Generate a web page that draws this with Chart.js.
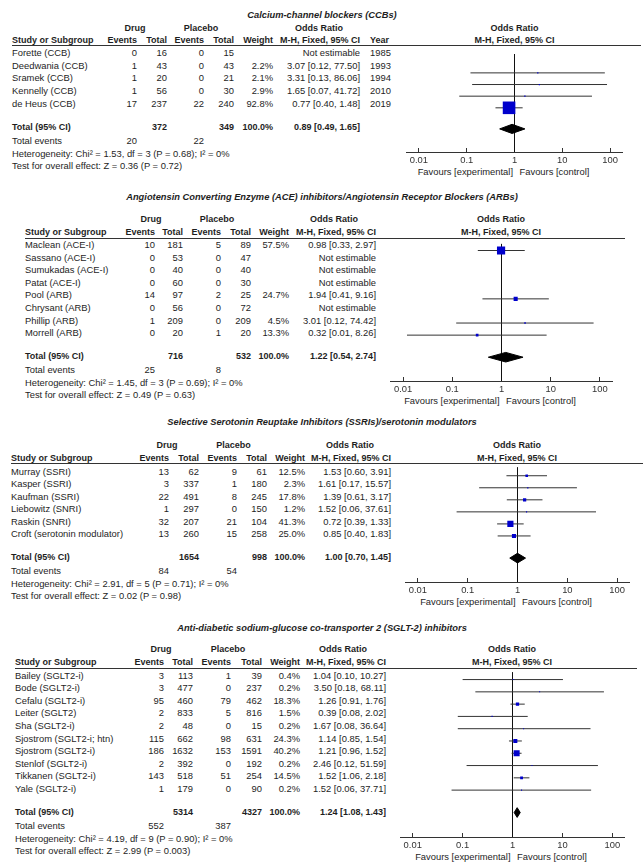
<!DOCTYPE html>
<html><head><meta charset="utf-8">
<script src="https://cdn.jsdelivr.net/npm/chart.js@4.4.1/dist/chart.umd.min.js"></script>
<style>
body{margin:0;background:#fff;}
#root{position:relative;width:644px;height:863px;overflow:hidden;font-family:"Liberation Sans",Arial,sans-serif;font-size:9.4px;color:#1e1e1e;}
.t{position:absolute;white-space:nowrap;height:12px;line-height:12px;}
.b{font-weight:bold;font-size:9px;}
.ti{font-weight:bold;font-style:italic;font-size:9.3px;}
.hl{position:absolute;height:0;border-top:1px solid #333;}
canvas{position:absolute;}
</style></head><body><div id="root"></div>
<script>
// ---------- DATA ----------
const panelTitles = [
  'Calcium-channel blockers (CCBs)',
  'Angiotensin Converting Enzyme (ACE) inhibitors/Angiotensin Receptor Blockers (ARBs)',
  'Selective Serotonin Reuptake Inhibitors (SSRIs)/serotonin modulators',
  'Anti-diabetic sodium-glucose co-transporter 2 (SGLT-2) inhibitors'
];
const tickValues = [0.01, 0.1, 1, 10, 100];
const tickLabels = ['0.01', '0.1', '1', '10', '100'];

// Panel 1: CCBs
const ccbStudies = ['Forette (CCB)', 'Deedwania (CCB)', 'Sramek (CCB)', 'Kennelly (CCB)', 'de Heus (CCB)'];
const ccbDrugEvents = [0, 1, 1, 1, 17];
const ccbDrugTotal = [16, 43, 20, 56, 237];
const ccbPlaceboEvents = [0, 0, 0, 0, 22];
const ccbPlaceboTotal = [15, 43, 21, 30, 240];
const ccbWeight = [null, 2.2, 2.1, 2.9, 92.8];
const ccbOR = [null, 3.07, 3.31, 1.65, 0.77];
const ccbLower = [null, 0.12, 0.13, 0.07, 0.40];
const ccbUpper = [null, 77.50, 86.06, 41.72, 1.48];
const ccbYear = [1985, 1993, 1994, 2010, 2019];

// Panel 2: ACE-I / ARB
const aceStudies = ['Maclean (ACE-I)', 'Sassano (ACE-I)', 'Sumukadas (ACE-I)', 'Patat (ACE-I)', 'Pool (ARB)', 'Chrysant (ARB)', 'Phillip (ARB)', 'Morrell (ARB)'];
const aceDrugEvents = [10, 0, 0, 0, 14, 0, 1, 0];
const aceDrugTotal = [181, 53, 40, 60, 97, 56, 209, 20];
const acePlaceboEvents = [5, 0, 0, 0, 2, 0, 0, 1];
const acePlaceboTotal = [89, 47, 40, 30, 25, 72, 209, 20];
const aceWeight = [57.5, null, null, null, 24.7, null, 4.5, 13.3];
const aceOR = [0.98, null, null, null, 1.94, null, 3.01, 0.32];
const aceLower = [0.33, null, null, null, 0.41, null, 0.12, 0.012];
const aceUpper = [2.97, null, null, null, 9.16, null, 74.42, 8.26];

// Panel 3: SSRIs
const ssriStudies = ['Murray (SSRI)', 'Kasper (SSRI)', 'Kaufman (SSRI)', 'Liebowitz (SNRI)', 'Raskin (SNRI)', 'Croft (serotonin modulator)'];
const ssriDrugEvents = [13, 3, 22, 1, 32, 13];
const ssriDrugTotal = [62, 337, 491, 297, 207, 260];
const ssriPlaceboEvents = [9, 1, 8, 0, 21, 15];
const ssriPlaceboTotal = [61, 180, 245, 150, 104, 258];
const ssriWeight = [12.5, 2.3, 17.8, 1.2, 41.3, 25.0];
const ssriOR = [1.53, 1.61, 1.39, 1.52, 0.72, 0.85];
const ssriLower = [0.60, 0.17, 0.61, 0.06, 0.39, 0.40];
const ssriUpper = [3.91, 15.57, 3.17, 37.61, 1.33, 1.83];

// Panel 4: SGLT2
const sgltStudies = ['Bailey (SGLT2-i)', 'Bode (SGLT2-i)', 'Cefalu (SGLT2-i)', 'Leiter (SGLT2)', 'Sha (SGLT2-i)', 'Sjostrom (SGLT2-i; htn)', 'Sjostrom (SGLT2-i)', 'Stenlof (SGLT2-i)', 'Tikkanen (SGLT2-i)', 'Yale (SGLT2-i)'];
const sgltDrugEvents = [3, 3, 95, 2, 2, 115, 186, 2, 143, 1];
const sgltDrugTotal = [113, 477, 460, 833, 48, 662, 1632, 392, 518, 179];
const sgltPlaceboEvents = [1, 0, 79, 5, 0, 98, 153, 0, 51, 0];
const sgltPlaceboTotal = [39, 237, 462, 816, 15, 631, 1591, 192, 254, 90];
const sgltWeight = [0.4, 0.2, 18.3, 1.5, 0.2, 24.3, 40.2, 0.2, 14.5, 0.2];
const sgltOR = [1.04, 3.50, 1.26, 0.39, 1.67, 1.14, 1.21, 2.46, 1.52, 1.52];
const sgltLower = [0.10, 0.18, 0.91, 0.08, 0.08, 0.85, 0.96, 0.12, 1.06, 0.06];
const sgltUpper = [10.27, 68.11, 1.76, 2.02, 36.64, 1.54, 1.52, 51.59, 2.18, 37.71];

// Pooled results per panel
const pooledDrugTotal = [372, 716, 1654, 5314];
const pooledPlaceboTotal = [349, 532, 998, 4327];
const pooledWeight = [100.0, 100.0, 100.0, 100.0];
const pooledOR = [0.89, 1.22, 1.00, 1.24];
const pooledLower = [0.49, 0.54, 0.70, 1.08];
const pooledUpper = [1.65, 2.74, 1.45, 1.43];
const drugEventTotals = [20, 25, 84, 552];
const placeboEventTotals = [22, 8, 54, 387];
const hetChi2 = ['1.53', '1.45', '2.91', '4.19'];
const hetDf = [3, 3, 5, 9];
const hetP = ['0.68', '0.69', '0.71', '0.90'];
const hetI2 = [0, 0, 0, 0];
const zValue = ['0.36', '0.49', '0.02', '2.99'];
const zP = ['0.72', '0.63', '0.98', '0.003'];

const panels = [
  {studies: ccbStudies, dE: ccbDrugEvents, dT: ccbDrugTotal, pE: ccbPlaceboEvents, pT: ccbPlaceboTotal, w: ccbWeight, or: ccbOR, lo: ccbLower, hi: ccbUpper, year: ccbYear},
  {studies: aceStudies, dE: aceDrugEvents, dT: aceDrugTotal, pE: acePlaceboEvents, pT: acePlaceboTotal, w: aceWeight, or: aceOR, lo: aceLower, hi: aceUpper},
  {studies: ssriStudies, dE: ssriDrugEvents, dT: ssriDrugTotal, pE: ssriPlaceboEvents, pT: ssriPlaceboTotal, w: ssriWeight, or: ssriOR, lo: ssriLower, hi: ssriUpper},
  {studies: sgltStudies, dE: sgltDrugEvents, dT: sgltDrugTotal, pE: sgltPlaceboEvents, pT: sgltPlaceboTotal, w: sgltWeight, or: sgltOR, lo: sgltLower, hi: sgltUpper}
];

// ---------- LAYOUT ----------
const layouts = [
  {title:15, h1:28, h2:40, line:45, row0:53, rowH:12.7, study:12, dE:137, dT:167, pE:204, pT:234, wt:273, orR:360, year:370, drugC:135, placC:201, orC:319, plotC:514.5, lineL:12, lineR:641},
  {title:197, h1:218.5, h2:232, line:237.5, row0:245, rowH:12.6, study:25, dE:155, dT:183, pE:221, pT:251, wt:289, orR:376, drugC:151, placC:217, orC:334, plotC:501, lineL:25, lineR:625},
  {title:422, h1:445, h2:457.7, line:463.3, row0:471.7, rowH:12.5, study:11, dE:169, dT:199, pE:237, pT:267, wt:305, orR:391, drugC:167, placC:233.5, orC:350, plotC:517, lineL:11, lineR:643},
  {title:628, h1:649, h2:662, line:667.7, row0:675.5, rowH:12.6, study:15, dE:164, dT:193, pE:231, pT:262, wt:300, orR:386, drugC:161, placC:228, orC:343, plotC:512, lineL:15, lineR:637}
];
const AXIS_W = 233;
const FONT = "'Liberation Sans', Arial, sans-serif";

const root = document.getElementById('root');
function txt(x, y, s, align, cls) {
  const d = document.createElement('div');
  d.className = 't' + (cls ? ' ' + cls : '');
  d.textContent = s;
  d.style.top = (y - 6) + 'px';
  if (align === 'r') { d.style.right = (644 - x) + 'px'; }
  else if (align === 'c') { d.style.left = x + 'px'; d.style.transform = 'translateX(-50%)'; }
  else { d.style.left = x + 'px'; }
  root.appendChild(d);
}
const f2 = v => v.toFixed(2);
const ciText = (o, l, h) => f2(o) + ' [' + f2(l) + ', ' + f2(h) + ']';

function buildPanel(k) {
  const d = panels[k], L = layouts[k];
  const n = d.studies.length;
  const rowY = i => L.row0 + i * L.rowH;
  const totalY = rowY(n - 1) + 23;
  const axisY = totalY + 25;

  txt(322, L.title, panelTitles[k], 'c', 'ti');
  txt(L.drugC, L.h1, 'Drug', 'c', 'b');
  txt(L.placC, L.h1, 'Placebo', 'c', 'b');
  txt(L.orC, L.h1, 'Odds Ratio', 'c', 'b');
  txt(L.plotC, L.h1, 'Odds Ratio', 'c', 'b');
  txt(L.study, L.h2, 'Study or Subgroup', 'l', 'b');
  txt(L.dE, L.h2, 'Events', 'r', 'b');
  txt(L.dT, L.h2, 'Total', 'r', 'b');
  txt(L.pE, L.h2, 'Events', 'r', 'b');
  txt(L.pT, L.h2, 'Total', 'r', 'b');
  txt(L.wt, L.h2, 'Weight', 'r', 'b');
  txt(L.orR, L.h2, 'M-H, Fixed, 95% CI', 'r', 'b');
  if (d.year) txt(L.year, L.h2, 'Year', 'l', 'b');
  txt(L.plotC, L.h2, 'M-H, Fixed, 95% CI', 'c', 'b');

  const hr = document.createElement('div');
  hr.className = 'hl';
  hr.style.left = L.lineL + 'px';
  hr.style.width = (L.lineR - L.lineL) + 'px';
  hr.style.top = Math.round(L.line) + 'px';
  root.appendChild(hr);

  for (let i = 0; i < n; i++) {
    const y = rowY(i);
    txt(L.study, y, d.studies[i], 'l');
    txt(L.dE, y, String(d.dE[i]), 'r');
    txt(L.dT, y, String(d.dT[i]), 'r');
    txt(L.pE, y, String(d.pE[i]), 'r');
    txt(L.pT, y, String(d.pT[i]), 'r');
    if (d.w[i] != null) txt(L.wt, y, d.w[i].toFixed(1) + '%', 'r');
    txt(L.orR, y, d.or[i] != null ? ciText(d.or[i], d.lo[i], d.hi[i]) : 'Not estimable', 'r');
    if (d.year) txt(L.year, y, String(d.year[i]), 'l');
  }
  txt(L.study, totalY, 'Total (95% CI)', 'l', 'b');
  txt(L.dT, totalY, String(pooledDrugTotal[k]), 'r', 'b');
  txt(L.pT, totalY, String(pooledPlaceboTotal[k]), 'r', 'b');
  txt(L.wt, totalY, pooledWeight[k].toFixed(1) + '%', 'r', 'b');
  txt(L.orR, totalY, ciText(pooledOR[k], pooledLower[k], pooledUpper[k]), 'r', 'b');
  txt(L.study, totalY + 14, 'Total events', 'l');
  txt(L.dE, totalY + 14, String(drugEventTotals[k]), 'r');
  txt(L.pE, totalY + 14, String(placeboEventTotals[k]), 'r');
  txt(L.study, totalY + 27, 'Heterogeneity: Chi\u00B2 = ' + hetChi2[k] + ', df = ' + hetDf[k] + ' (P = ' + hetP[k] + '); I\u00B2 = ' + hetI2[k] + '%', 'l');
  txt(L.study, totalY + 39, 'Test for overall effect: Z = ' + zValue[k] + ' (P = ' + zP[k] + ')', 'l');
  txt(L.plotC - 1.5, axisY + 20, 'Favours [experimental]', 'r');
  txt(L.plotC + 5, axisY + 20, 'Favours [control]', 'l');

  // ---- chart ----
  const top = Math.round(L.line);
  const plotH = Math.round(axisY) - top;
  const left = Math.round(L.plotC - AXIS_W / 2);
  const H = plotH + 30;
  const cv = document.createElement('canvas');
  cv.width = AXIS_W; cv.height = H;
  cv.style.left = left + 'px'; cv.style.top = top + 'px';
  cv.style.width = AXIS_W + 'px'; cv.style.height = H + 'px';
  root.appendChild(cv);

  const yMin = (top - L.row0) / L.rowH;
  const yMax = (top + plotH - L.row0) / L.rowH;
  const totIdx = (totalY - L.row0) / L.rowH;
  const dh = 5 / L.rowH;

  const sq = [], sqR = [];
  const datasets = [];
  for (let i = 0; i < n; i++) {
    if (d.or[i] == null) continue;
    sq.push({x: d.or[i], y: i});
    sqR.push((1 + 0.125 * d.w[i]) / Math.SQRT2);
    datasets.push({data: [{x: d.lo[i], y: i}, {x: d.hi[i], y: i}], showLine: true, borderColor: '#333', borderWidth: 1, pointRadius: 0, order: 2});
  }
  datasets.push({data: sq, pointStyle: 'rect', pointRadius: sqR, backgroundColor: '#0000CC', borderWidth: 0, pointBorderWidth: 0, showLine: false, order: 0});
  datasets.push({data: [
      {x: pooledLower[k], y: totIdx}, {x: pooledOR[k], y: totIdx - dh},
      {x: pooledUpper[k], y: totIdx}, {x: pooledOR[k], y: totIdx + dh},
      {x: pooledLower[k], y: totIdx}],
    showLine: true, fill: 'shape', backgroundColor: '#000', borderColor: '#000', borderWidth: 1, pointRadius: 0, tension: 0, order: 1});
  datasets.push({data: [{x: 1, y: yMin}, {x: 1, y: yMax}], showLine: true, borderColor: '#111', borderWidth: 1, pointRadius: 0, order: 3});

  new Chart(cv, {
    type: 'scatter',
    data: {datasets},
    options: {
      responsive: false, animation: false, devicePixelRatio: 1, events: [],
      layout: {padding: 0},
      plugins: {legend: {display: false}, tooltip: {enabled: false}},
      scales: {
        x: {
          type: 'logarithmic', position: 'bottom',
          min: Math.pow(10, -2.25), max: Math.pow(10, 2.25),
          afterBuildTicks: s => { s.ticks = tickValues.map(v => ({value: v})); },
          afterFit: s => { s.height = 30; },
          ticks: {autoSkip: false, maxRotation: 0, minRotation: 0, padding: 7, color: '#333',
                  font: {size: 9.4, family: FONT},
                  callback: v => { const j = tickValues.indexOf(v); return j >= 0 ? tickLabels[j] : ''; }},
          grid: {drawOnChartArea: false, drawTicks: true, tickLength: -4, color: '#333'},
          border: {display: true, color: '#333', width: 1}
        },
        y: {type: 'linear', display: false, min: yMin, max: yMax, reverse: true}
      }
    }
  });
}
for (let k = 0; k < 4; k++) buildPanel(k);
</script></body></html>
